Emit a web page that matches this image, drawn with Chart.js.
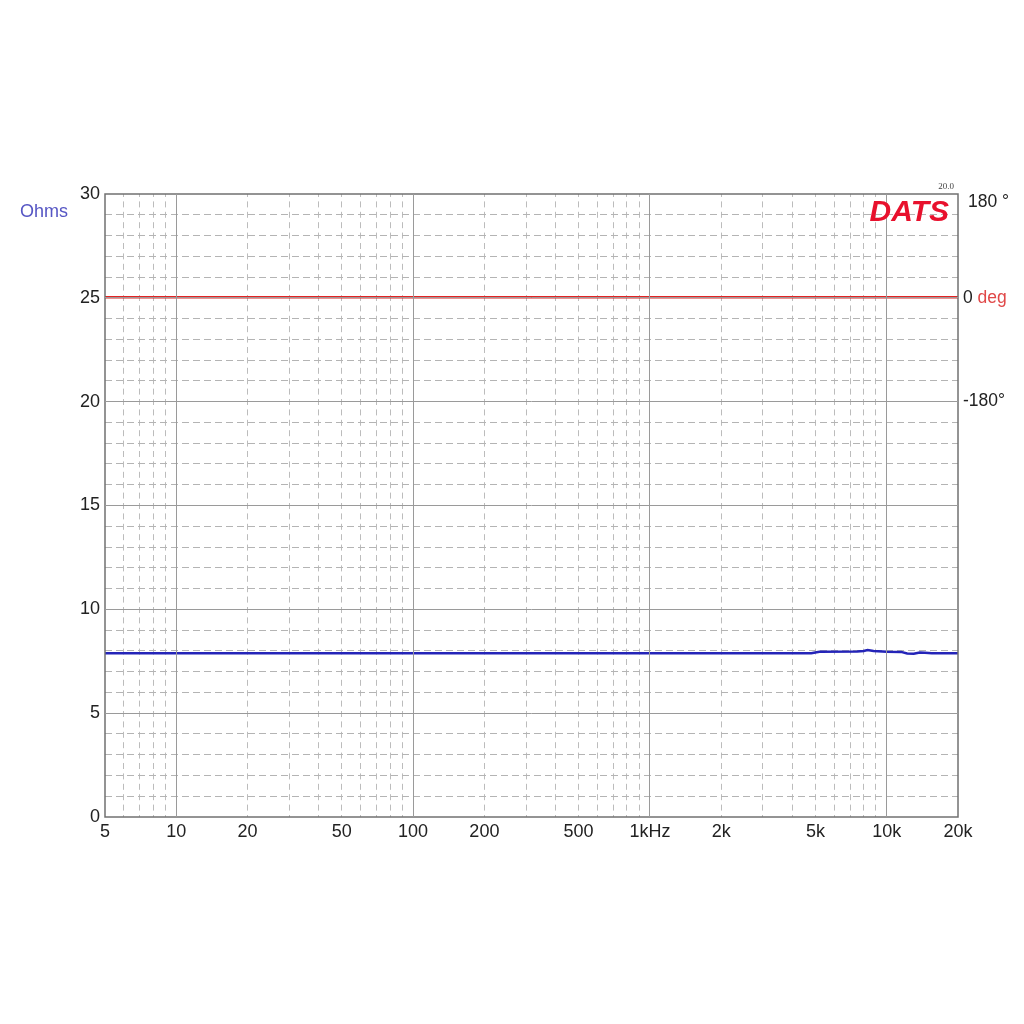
<!DOCTYPE html>
<html>
<head>
<meta charset="utf-8">
<script src="https://cdn.jsdelivr.net/npm/chart.js@4/dist/chart.umd.min.js"></script>
<style>
  html, body { margin: 0; padding: 0; background: #fff; }
  #wrap { width: 1024px; height: 1024px; }
</style>
</head>
<body>
<div id="wrap"><canvas id="chart" width="1024" height="1024"></canvas></div>
<script>
// ====== DATA ======
const freqs     = [5, 10, 20, 50, 100, 200, 500, 1000, 2000, 4800, 5200, 7500, 8000, 8300, 8800, 10000, 11500, 12200, 13000, 13800, 14500, 15500, 20000];
const impedance = [7.88, 7.88, 7.88, 7.88, 7.88, 7.88, 7.88, 7.88, 7.88, 7.89, 7.96, 7.97, 7.99, 8.04, 7.99, 7.96, 7.95, 7.87, 7.86, 7.92, 7.91, 7.89, 7.89];
const phase     = [1, 1, 1, 1, 1, 1, 1, 1, 1, 1, 1, 1, 1, 1, 1, 1, 1, 1, 1, 1, 1, 1, 1];

const xLabelTicks = [5, 10, 20, 50, 100, 200, 500, 1000, 2000, 5000, 10000, 20000];
const xLabelText  = ["5", "10", "20", "50", "100", "200", "500", "1kHz", "2k", "5k", "10k", "20k"];
const decades     = [10, 100, 1000, 10000];
const phaseTicks  = [180, 0, -180];

// minor grid positions (2..9 of each decade, except decades and ends)
const xMinorTicks = [];
[1, 10, 100, 1000, 10000].forEach(d => {
  for (let m = 2; m <= 9; m++) {
    const v = d * m;
    if (v > 5 && v < 20000) xMinorTicks.push(v);
  }
});

const FONT = "'Liberation Sans', Arial, sans-serif";

// ====== PLUGINS ======
const framePlugin = {
  id: "frame",
  afterDatasetsDraw(chart) {
    const { ctx, chartArea: a } = chart;
    ctx.save();
    ctx.strokeStyle = "#707070";
    ctx.lineWidth = 1.5;
    ctx.strokeRect(a.left, a.top, a.right - a.left, a.bottom - a.top);
    ctx.restore();
  },
  afterDraw(chart) {
    const { ctx, chartArea: a } = chart;
    const y2 = chart.scales.y2;
    ctx.save();

    // left axis title
    ctx.font = "18px " + FONT;
    ctx.fillStyle = "#5656c4";
    ctx.textBaseline = "middle";
    ctx.textAlign = "left";
    ctx.fillText("Ohms", 20, 212);

    // right phase labels
    ctx.font = "17.5px " + FONT;
    ctx.fillStyle = "#222";
    ctx.fillText("180 °", a.right + 10, y2.getPixelForValue(180) + 8);
    const y0 = y2.getPixelForValue(0);
    ctx.fillText("0", a.right + 5, y0);
    const w0 = ctx.measureText("0 ").width;
    ctx.fillStyle = "#e04848";
    ctx.fillText("deg", a.right + 5 + w0, y0);
    ctx.fillStyle = "#222";
    ctx.fillText("-180°", a.right + 5, y2.getPixelForValue(-180));

    // logo
    ctx.font = "italic bold 30px " + FONT;
    ctx.fillStyle = "#e8112d";
    ctx.textAlign = "right";
    ctx.textBaseline = "alphabetic";
    ctx.fillText("DATS", a.right - 9, a.top + 27);

    ctx.font = "9px 'Liberation Serif', serif";
    ctx.fillStyle = "#444";
    ctx.fillText("20.0", a.right - 4, a.top - 5);
    ctx.restore();
  }
};

// ====== CHART ======
new Chart(document.getElementById("chart"), {
  type: "line",
  data: {
    datasets: [
      {
        label: "Phase",
        data: freqs.map((f, i) => ({ x: f, y: phase[i] })),
        yAxisID: "y2",
        borderColor: "#e42222",
        borderWidth: 2.5,
        pointRadius: 0,
        tension: 0
      },
      {
        label: "Impedance",
        data: freqs.map((f, i) => ({ x: f, y: impedance[i] })),
        yAxisID: "y",
        borderColor: "#2424b8",
        borderWidth: 2.5,
        pointRadius: 0,
        tension: 0
      }
    ]
  },
  options: {
    responsive: false,
    animation: false,
    events: [],
    layout: { padding: { left: 60, right: 66, top: 194, bottom: 167 } },
    plugins: { legend: { display: false }, tooltip: { enabled: false } },
    scales: {
      x: {
        type: "logarithmic",
        min: 5,
        max: 20000,
        afterBuildTicks: s => { s.ticks = xLabelTicks.map(v => ({ value: v })); },
        afterFit: s => { s.height = 40; },
        ticks: {
          autoSkip: false,
          maxRotation: 0,
          padding: 4,
          color: "#222",
          font: { family: FONT, size: 18 },
          callback: v => xLabelText[xLabelTicks.indexOf(v)]
        },
        grid: {
          drawTicks: false,
          lineWidth: 1,
          color: c => (c.tick && decades.includes(c.tick.value)) ? "#9a9a9a" : "rgba(0,0,0,0)",
          z: 1
        },
        border: { display: false }
      },
      xMinor: {
        type: "logarithmic",
        position: "bottom",
        min: 5,
        max: 20000,
        afterBuildTicks: s => { s.ticks = xMinorTicks.map(v => ({ value: v })); },
        afterFit: s => { s.height = 0; },
        ticks: { display: false },
        grid: { drawTicks: false, color: "#bcbcbc", lineWidth: 1 },
        border: { display: false, dash: [6, 4.4], dashOffset: 3 }
      },
      y: {
        type: "linear",
        position: "left",
        min: 0,
        max: 30,
        afterBuildTicks: s => { s.ticks = [0, 5, 10, 15, 20, 25, 30].map(v => ({ value: v })); },
        afterFit: s => { s.width = 45; },
        ticks: {
          padding: 5,
          color: "#222",
          font: { family: FONT, size: 18 }
        },
        grid: {
          drawTicks: false,
          lineWidth: 1,
          color: c => (c.tick && c.tick.value > 0 && c.tick.value < 30) ? "#9a9a9a" : "rgba(0,0,0,0)",
          z: 1
        },
        border: { display: false }
      },
      yMinor: {
        type: "linear",
        position: "left",
        min: 0,
        max: 30,
        afterBuildTicks: s => {
          const t = [];
          for (let v = 1; v < 30; v++) if (v % 5 !== 0) t.push({ value: v });
          s.ticks = t;
        },
        afterFit: s => { s.width = 0; },
        ticks: { display: false },
        grid: { drawTicks: false, color: "#b4b4b4", lineWidth: 1 },
        border: { display: false, dash: [7, 4] }
      },
      y2: {
        type: "linear",
        position: "right",
        display: false,
        min: -900,
        max: 180,
        afterBuildTicks: s => { s.ticks = phaseTicks.map(v => ({ value: v })); }
      }
    }
  },
  plugins: [framePlugin]
});
</script>
</body>
</html>
